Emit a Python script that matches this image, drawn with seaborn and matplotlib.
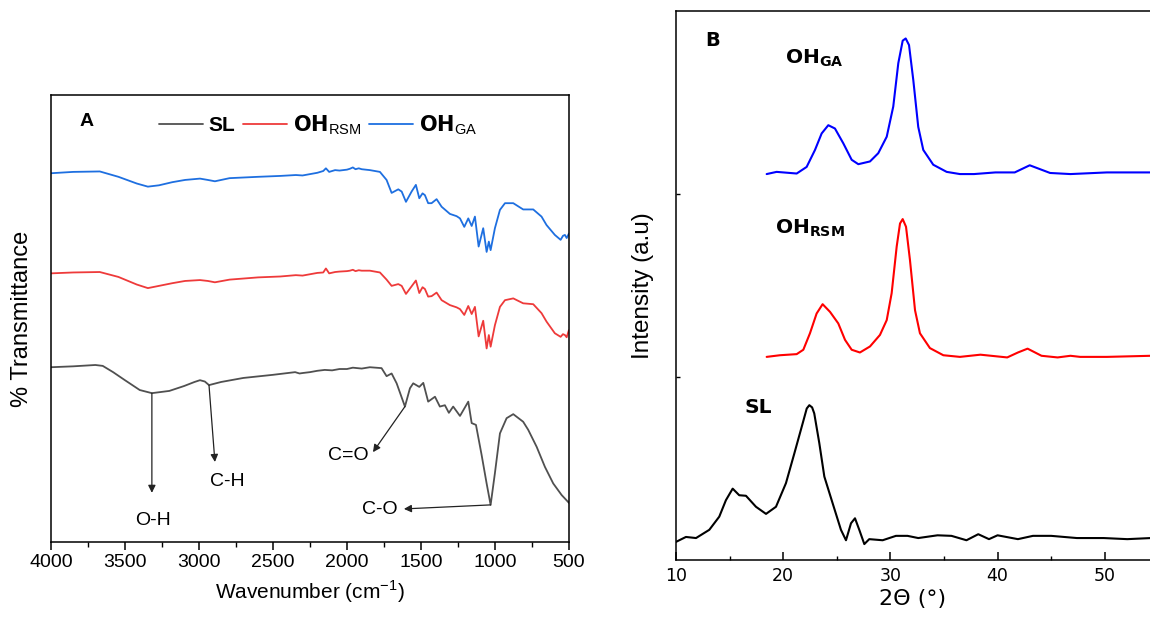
import numpy as np
import pandas as pd
import matplotlib
matplotlib.use("Agg")
import matplotlib.pyplot as plt
import seaborn as sns

# ---- panel A: FTIR (arbitrary %T units) ----
WN_SL = [4000, 3850, 3700, 3650, 3580, 3500, 3400, 3318, 3200, 3100, 3030, 2993,
         2960, 2932, 2850, 2700, 2500, 2350, 2320, 2300, 2250, 2200, 2150, 2100,
         2050, 2000, 1960, 1900, 1845, 1766, 1732, 1698, 1664, 1608, 1574, 1552,
         1511, 1484, 1451, 1405, 1372, 1338, 1311, 1282, 1236, 1180, 1157, 1128,
         1090, 1056, 1029, 1000, 966, 921, 876, 809, 775, 718, 662, 606, 549, 498]
T_SL = [39.1, 39.3, 39.6, 39.4, 38.0, 36.2, 34.0, 33.3, 33.8, 34.9, 35.8, 36.2,
        35.9, 35.1, 35.8, 36.7, 37.4, 38.0, 37.7, 37.8, 38.0, 38.3, 38.5, 38.4,
        38.7, 38.7, 39.0, 38.8, 39.1, 38.9, 37.1, 37.7, 35.5, 30.3, 34.4, 35.5,
        34.7, 35.6, 31.4, 32.5, 30.3, 30.6, 28.9, 30.3, 28.2, 31.4, 26.6, 26.2,
        19.5, 13.1, 8.3, 15.4, 24.3, 27.7, 28.6, 26.9, 25.1, 21.3, 16.8, 13.1, 10.5, 8.7]

WN_OH = [4000, 3850, 3670, 3544, 3420, 3345, 3270, 3180, 3094, 2993, 2940, 2892,
         2793, 2600, 2450, 2345, 2300, 2250, 2200, 2160, 2142, 2120, 2080, 2050,
         2000, 1980, 1960, 1942, 1920, 1900, 1845, 1777, 1732, 1698, 1653, 1630,
         1601, 1563, 1534, 1511, 1489, 1473, 1451, 1428, 1394, 1360, 1304, 1259,
         1236, 1207, 1180, 1157, 1135, 1110, 1079, 1056, 1041, 1029, 1000, 966,
         932, 876, 809, 741, 685, 651, 595, 556, 540, 527, 515, 500]
T_GA = [82.5, 82.8, 82.9, 81.7, 80.2, 79.5, 79.8, 80.5, 81.0, 81.3, 81.0, 80.7,
        81.4, 81.7, 81.9, 82.1, 82.0, 82.3, 82.6, 83.0, 83.6, 82.8, 83.2, 83.1,
        83.3, 83.5, 83.8, 83.4, 83.6, 83.4, 83.2, 82.8, 81.0, 78.1, 78.9, 78.4,
        76.1, 78.4, 79.9, 76.9, 78.0, 77.6, 75.8, 75.8, 76.7, 75.0, 73.4, 72.9,
        72.4, 70.5, 72.4, 70.7, 72.8, 66.1, 70.2, 64.9, 67.2, 65.3, 70.2, 74.3,
        75.8, 75.8, 74.4, 74.4, 72.8, 70.9, 68.7, 67.6, 68.5, 68.7, 68.0, 69.0]
T_RSM = [60.1, 60.3, 60.4, 59.3, 57.6, 56.8, 57.3, 57.9, 58.4, 58.6, 58.4, 58.1,
         58.7, 59.2, 59.4, 59.7, 59.6, 59.9, 60.2, 60.3, 61.2, 60.1, 60.4, 60.5,
         60.6, 60.7, 60.9, 60.6, 60.8, 60.7, 60.7, 60.3, 58.7, 57.3, 57.7, 57.3,
         55.5, 57.2, 58.5, 55.7, 57.0, 56.6, 54.9, 55.0, 55.8, 54.1, 53.0, 52.5,
         52.1, 50.8, 52.8, 51.0, 52.6, 46.0, 49.5, 43.3, 46.3, 43.7, 48.5, 52.6,
         54.1, 54.5, 53.4, 53.2, 51.2, 49.3, 46.7, 45.9, 46.5, 46.3, 45.8, 47.4]

# ---- panel B: XRD (arbitrary intensity) ----
TH_SL = [10.0, 10.93, 11.87, 13.11, 14.04, 14.66, 15.29, 15.90, 16.53, 17.46,
         18.40, 19.33, 20.26, 21.04, 21.82, 22.2, 22.44, 22.7, 22.90, 23.37,
         23.84, 24.62, 25.39, 25.86, 26.33, 26.70, 27.10, 27.57, 28.03, 29.28,
         30.52, 31.6, 32.6, 34.4, 35.7, 37.1, 38.2, 39.2, 40.0, 41.9, 43.3, 45.0,
         47.4, 49.9, 52.1, 54.3]
I_SL = [3.3, 4.2, 4.0, 5.5, 7.9, 10.9, 13.0, 11.8, 11.7, 9.7,
        8.4, 9.7, 14.0, 19.4, 24.9, 27.6, 28.2, 27.8, 26.7, 21.3,
        15.2, 10.3, 5.5, 3.6, 6.7, 7.6, 5.5, 2.9, 3.8, 3.6,
        4.4, 4.4, 4.0, 4.5, 4.4, 3.6, 4.7, 3.8, 4.5, 3.8, 4.4, 4.4,
        4.0, 4.0, 3.8, 4.0]

TH_RSM = [18.46, 19.70, 21.26, 21.88, 22.50, 23.12, 23.68, 24.37, 25.14, 25.77,
          26.39, 27.16, 28.10, 29.03, 29.66, 30.12, 30.59, 30.90, 31.15, 31.46,
          31.83, 32.30, 32.76, 33.69, 34.94, 36.49, 38.4, 40.9, 41.9, 42.8, 44.1,
          45.6, 46.8, 47.7, 50.2, 54.3]
I_RSM = [37.0, 37.3, 37.5, 38.3, 41.3, 44.9, 46.6, 45.2, 43.1, 40.1,
         38.3, 37.8, 38.9, 41.0, 43.7, 48.6, 57.1, 61.3, 62.1, 60.7,
         54.6, 45.5, 41.3, 38.6, 37.3, 37.0, 37.4, 36.9, 37.8, 38.5, 37.2,
         36.9, 37.2, 37.0, 37.0, 37.2]

TH_GA = [18.46, 19.39, 21.26, 22.19, 22.97, 23.59, 24.21, 24.83, 25.61, 26.39,
         27.01, 28.10, 28.87, 29.66, 30.27, 30.74, 31.15, 31.43, 31.74, 32.14,
         32.60, 33.07, 34.0, 35.25, 36.49, 37.8, 39.8, 41.6, 43.0, 44.9, 46.8,
         50.2, 54.3]
I_GA = [70.3, 70.7, 70.4, 71.6, 74.7, 77.7, 79.2, 78.6, 75.9, 72.9,
        72.1, 72.6, 74.1, 77.1, 82.6, 90.5, 94.6, 95.0, 93.8, 87.4,
        78.9, 74.7, 72.0, 70.7, 70.3, 70.3, 70.6, 70.6, 71.9, 70.5, 70.3,
        70.6, 70.6]

FTIR_COLORS = {"SL": "#505050", "RSM": "#ee3a3a", "GA": "#1e6fe0"}
XRD_COLORS = {"SL": "#000000", "RSM": "#ff0000", "GA": "#0000ff"}

sns.set_theme(style="ticks")
plt.rcParams["font.family"] = ["Liberation Sans", "DejaVu Sans"]
plt.rcParams["axes.linewidth"] = 1.1
plt.rcParams["text.color"] = "black"
plt.rcParams["axes.labelcolor"] = "black"
plt.rcParams["xtick.color"] = "black"
plt.rcParams["ytick.color"] = "black"
plt.rcParams["mathtext.fontset"] = "custom"
plt.rcParams["mathtext.rm"] = "Liberation Sans"
plt.rcParams["mathtext.bf"] = "Liberation Sans:bold"

fig = plt.figure(figsize=(11.5, 6.19), dpi=100)
ax_a = fig.add_axes([0.0443, 0.1244, 0.4504, 0.7221])
ax_b = fig.add_axes([0.5878, 0.0953, 0.4122, 0.8869])

line_kw = dict(sort=False, estimator=None)

# ---------- A ----------
sns.lineplot(x=WN_SL, y=T_SL, ax=ax_a, color=FTIR_COLORS["SL"], lw=1.3,
             label="SL", **line_kw)
sns.lineplot(x=WN_OH, y=T_RSM, ax=ax_a, color=FTIR_COLORS["RSM"], lw=1.3,
             label=r"$\mathbf{OH}_{\mathrm{RSM}}$", **line_kw)
sns.lineplot(x=WN_OH, y=T_GA, ax=ax_a, color=FTIR_COLORS["GA"], lw=1.3,
             label=r"$\mathbf{OH}_{\mathrm{GA}}$", **line_kw)
ax_a.set_xlim(4000, 500)
ax_a.set_ylim(0, 100)
ax_a.set_xticks(np.arange(4000, 499, -500))
ax_a.set_xticks(np.arange(3750, 500, -500), minor=True)
ax_a.set_yticks([])
ax_a.tick_params(axis="x", which="major", direction="out", length=6, width=1.1,
                 labelsize=14, pad=3)
ax_a.tick_params(axis="x", which="minor", direction="out", length=3.5, width=1.0)
ax_a.set_xlabel(r"Wavenumber (cm$^{-1}$)", fontsize=15, labelpad=5)
ax_a.set_ylabel("% Transmittance", fontsize=17, labelpad=13)
for s in ax_a.spines.values():
    s.set_color("black")

leg = ax_a.legend(loc="center", bbox_to_anchor=(0.516, 0.933), ncol=3, frameon=False,
                  handlelength=2.1, handletextpad=0.3, columnspacing=0.35,
                  borderaxespad=0, prop={"weight": "bold", "size": 15})
for t in leg.get_texts():
    t.set_fontweight("bold")
    t.set_color("black")
ax_a.text(3757, 94.0, "A", fontsize=14, fontweight="bold", ha="center", va="center")

arrow_kw = dict(arrowstyle="-|>", color="#222222", lw=0.9, mutation_scale=11,
                shrinkA=0, shrinkB=0)
ax_a.annotate("", xy=(3318, 11.0), xytext=(3318, 33.3), arrowprops=arrow_kw)
ax_a.text(3310, 4.9, "O-H", fontsize=14, ha="center", va="center")
ax_a.annotate("", xy=(2892, 17.9), xytext=(2932, 35.1), arrowprops=arrow_kw)
ax_a.text(2811, 13.6, "C-H", fontsize=14, ha="center", va="center")
ax_a.annotate("", xy=(1824, 20.1), xytext=(1608, 30.3), arrowprops=arrow_kw)
ax_a.text(1990, 19.4, "C=O", fontsize=14, ha="center", va="center")
ax_a.annotate("", xy=(1615, 7.4), xytext=(1029, 8.3), arrowprops=arrow_kw)
ax_a.text(1780, 7.2, "C-O", fontsize=14, ha="center", va="center")

# ---------- B ----------
sns.lineplot(x=TH_SL, y=I_SL, ax=ax_b, color=XRD_COLORS["SL"], lw=1.5, **line_kw)
sns.lineplot(x=TH_RSM, y=I_RSM, ax=ax_b, color=XRD_COLORS["RSM"], lw=1.5, **line_kw)
sns.lineplot(x=TH_GA, y=I_GA, ax=ax_b, color=XRD_COLORS["GA"], lw=1.5, **line_kw)
for ln in ax_b.get_lines():
    ln.set_solid_joinstyle("round")
ax_b.set_xlim(10, 54.22)
ax_b.set_ylim(0, 100)
ax_b.spines["right"].set_visible(False)
for s in ax_b.spines.values():
    s.set_color("black")
ax_b.set_xticks([10, 20, 30, 40, 50])
ax_b.set_xticks([15, 25, 35, 45], minor=True)
ax_b.set_yticks([33.4, 66.6])
ax_b.set_yticklabels([])
ax_b.tick_params(axis="x", which="major", direction="in", length=6, width=1.1,
                 labelsize=12.5, pad=5)
ax_b.tick_params(axis="x", which="minor", direction="in", length=3, width=1.0)
ax_b.tick_params(axis="y", direction="in", length=3, width=1.0)
for lbl in ax_b.get_xticklabels():
    lbl.set_family("DejaVu Sans")
ax_b.set_xlabel("2\u0398 (\u00b0)", fontsize=16, family="DejaVu Sans", labelpad=3)
ax_b.set_ylabel("Intensity (a.u)", fontsize=17.5, labelpad=12)

ax_b.text(12.7, 94.7, "B", fontsize=14, fontweight="bold", family="DejaVu Sans",
          ha="left", va="center")
b_kw = dict(fontsize=14.5, ha="left", va="center")
plt.rcParams["mathtext.bf"] = "DejaVu Sans:bold"
ax_b.text(20.2, 91.4, r"$\mathbf{OH_{GA}}$", **b_kw)
ax_b.text(19.2, 60.5, r"$\mathbf{OH_{RSM}}$", **b_kw)
ax_b.text(16.4, 27.7, "SL", fontweight="bold", family="DejaVu Sans", **b_kw)

fig.savefig("out.png", dpi=100)
